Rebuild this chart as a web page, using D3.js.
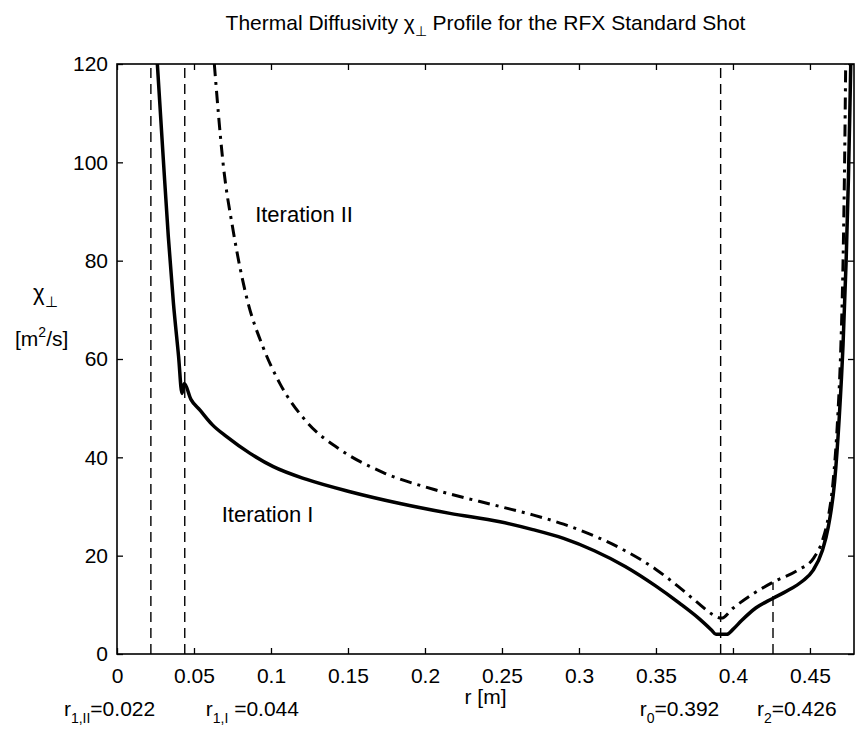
<!DOCTYPE html>
<html>
<head>
<meta charset="utf-8">
<script src="https://cdnjs.cloudflare.com/ajax/libs/d3/7.8.5/d3.min.js"></script>
<style>
  body { margin: 0; background: #fff; }
  text { font-family: "Liberation Sans", Arial, sans-serif; fill: #000; }
</style>
</head>
<body>
<div id="chart"></div>
<script>
// Iteration I (solid)
var rIter1 = [0.0262, 0.0301, 0.0333, 0.0366, 0.0400, 0.0422, 0.0437, 0.0480, 0.0539,
              0.0620, 0.0712, 0.0864, 0.1015, 0.1232, 0.1513, 0.1838, 0.2162, 0.2487, 0.2700,
              0.2900, 0.3100, 0.3300, 0.3500, 0.3650, 0.3780, 0.3860, 0.3890, 0.3960, 0.4000,
              0.4056, 0.4150, 0.4258, 0.4350, 0.4450, 0.4520, 0.4580, 0.4620, 0.4660, 0.4690,
              0.4715, 0.4735, 0.4750, 0.4760, 0.4765];
var chiIter1 = [120, 100.5, 85.0, 71.5, 60.5, 53.0, 55.0, 51.8, 49.6,
                46.6, 44.2, 40.8, 38.1, 35.5, 33.0, 30.6, 28.6, 26.9, 25.3,
                23.5, 21.0, 17.8, 13.8, 10.4, 7.2, 4.9, 4.0, 4.0, 5.0,
                6.8, 9.4, 11.3, 12.8, 14.8, 17.0, 21.0, 26.0, 35.0, 48.0,
                63.0, 80.0, 97.0, 112, 120];

// Iteration II (dash-dot)
var rIter2 = [0.0632, 0.0690, 0.0755, 0.0842, 0.0950, 0.1058, 0.1232, 0.1448, 0.1729, 0.2054,
              0.2487, 0.2700, 0.2900, 0.3100, 0.3300, 0.3500, 0.3650, 0.3780, 0.3870, 0.3925,
              0.4000, 0.4134, 0.4260, 0.4418, 0.4524, 0.4580, 0.4620, 0.4650, 0.4680, 0.4700,
              0.4715, 0.4725, 0.4732];
var chiIter2 = [120, 99.5, 86.0, 72.5, 62.3, 55.0, 47.2, 41.6, 36.9, 33.5,
                30.0, 28.3, 26.4, 24.0, 21.0, 17.2, 13.6, 10.2, 8.0, 7.3,
                9.3, 12.3, 14.6, 17.0, 19.5, 23.0, 28.0, 35.0, 48.0, 62.0,
                80.0, 100, 120];

// dashed radius markers
var markerR = [0.022, 0.044, 0.392, 0.426];
var markerTop = [120, 120, 120, 14.6];
var markerSub = ["1,II", "1,I", "0", "2"];
var markerVal = ["=0.022", " =0.044", "=0.392", "=0.426"];

var xTicks = [0, 0.05, 0.1, 0.15, 0.2, 0.25, 0.3, 0.35, 0.4, 0.45];
var yTicks = [0, 20, 40, 60, 80, 100, 120];

var margin = {top: 64, right: 2, bottom: 80, left: 117},
    width = 856 - margin.left - margin.right,
    height = 734 - margin.top - margin.bottom;

var svg = d3.select("#chart").append("svg")
    .attr("width", 856)
    .attr("height", 734)
    .append("g")
    .attr("transform", "translate(" + margin.left + "," + margin.top + ")");

var x = d3.scaleLinear().domain([0, 0.4786]).range([0, width]);
var y = d3.scaleLinear().domain([0, 120]).range([height, 0]);

svg.append("clipPath").attr("id", "clip")
    .append("rect").attr("width", width).attr("height", height);

// axes, ticks pointing inward
var tickLen = 6;
svg.append("g")
    .attr("transform", "translate(0," + height + ")")
    .call(d3.axisBottom(x).tickValues(xTicks).tickFormat(d3.format("~g"))
        .tickSizeInner(-tickLen).tickSizeOuter(0).tickPadding(14));
svg.append("g")
    .call(d3.axisTop(x).tickValues(xTicks).tickFormat("")
        .tickSizeInner(-tickLen).tickSizeOuter(0));
svg.append("g")
    .call(d3.axisLeft(y).tickValues(yTicks)
        .tickSizeInner(-tickLen).tickSizeOuter(0).tickPadding(9));
svg.append("g")
    .attr("transform", "translate(" + width + ",0)")
    .call(d3.axisRight(y).tickValues(yTicks).tickFormat("")
        .tickSizeInner(-tickLen).tickSizeOuter(0));

svg.selectAll(".domain").remove();
svg.selectAll(".tick line").attr("stroke", "#000").attr("stroke-width", 1.3);
svg.selectAll(".tick text")
    .style("font-family", "'Liberation Sans', Arial, sans-serif")
    .style("font-size", "21px")
    .attr("fill", "#000");

svg.append("rect")
    .attr("width", width).attr("height", height)
    .attr("fill", "none").attr("stroke", "#000").attr("stroke-width", 1.6);

// dashed markers
var plot = svg.append("g").attr("clip-path", "url(#clip)");
plot.selectAll(".marker")
    .data(markerR)
    .enter().append("line")
    .attr("class", "marker")
    .attr("x1", function (d) { return x(d); })
    .attr("x2", function (d) { return x(d); })
    .attr("y1", y(0))
    .attr("y2", function (d, i) { return y(markerTop[i]); })
    .attr("stroke", "#000")
    .attr("stroke-width", 1.4)
    .attr("stroke-dasharray", "10,6");

// curves
var line = d3.line()
    .x(function (d) { return x(d[0]); })
    .y(function (d) { return y(d[1]); })
    .curve(d3.curveMonotoneX);

plot.append("path")
    .datum(d3.zip(rIter2, chiIter2))
    .attr("d", line)
    .attr("fill", "none")
    .attr("stroke", "#000")
    .attr("stroke-width", 3)
    .attr("stroke-dasharray", "12,6,3,6");

plot.append("path")
    .datum(d3.zip(rIter1, chiIter1))
    .attr("d", line)
    .attr("fill", "none")
    .attr("stroke", "#000")
    .attr("stroke-width", 3.5)
    .attr("stroke-linejoin", "round");

// curve labels
svg.append("text")
    .attr("x", x(0.0897)).attr("y", y(87.9))
    .style("font-size", "22px")
    .text("Iteration II");
svg.append("text")
    .attr("x", x(0.068)).attr("y", y(26.8))
    .style("font-size", "22px")
    .text("Iteration I");

// title
var title = svg.append("text")
    .attr("x", width / 2).attr("y", -34)
    .attr("text-anchor", "middle")
    .style("font-size", "21px");
title.append("tspan").text("Thermal Diffusivity \u03c7");
title.append("tspan").attr("dy", 6).style("font-size", "14px").text("\u22a5");
title.append("tspan").attr("dy", -6).text(" Profile for the RFX Standard Shot");

// y label
var yl = svg.append("text")
    .attr("x", -84).attr("y", 236)
    .style("font-size", "22px");
yl.append("tspan").text("\u03c7");
yl.append("tspan").attr("dy", 7).style("font-size", "15px").text("\u22a5");

var yu = svg.append("text")
    .attr("x", -102).attr("y", 282)
    .style("font-size", "21px");
yu.append("tspan").text("[m");
yu.append("tspan").attr("dy", -9).style("font-size", "14px").text("2");
yu.append("tspan").attr("dy", 9).text("/s]");

// x label
svg.append("text")
    .attr("x", width / 2).attr("y", height + 50)
    .attr("text-anchor", "middle")
    .style("font-size", "21px")
    .text("r [m]");

// marker labels under the axis
var labelShift = [-87, 21, -81, -16];
markerR.forEach(function (r, i) {
    var t = svg.append("text")
        .attr("x", x(r) + labelShift[i]).attr("y", height + 62)
        .style("font-size", "21px");
    t.append("tspan").text("r");
    t.append("tspan").attr("dy", 7).style("font-size", "14px").text(markerSub[i]);
    t.append("tspan").attr("dy", -7).text(markerVal[i]);
});
</script>
</body>
</html>
